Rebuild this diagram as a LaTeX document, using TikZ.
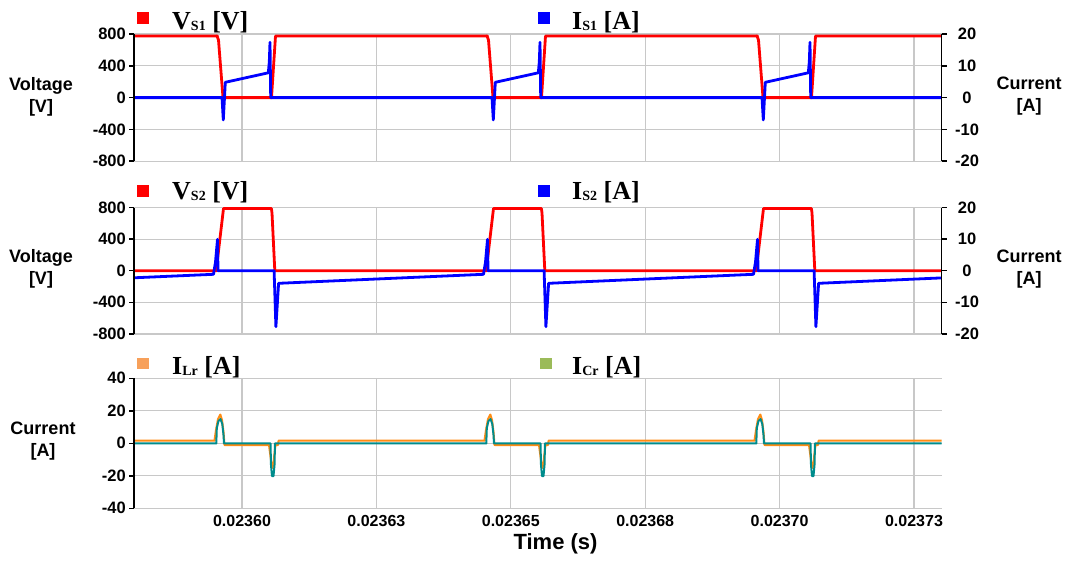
\documentclass[tikz,border=0pt]{standalone}
\usepackage{fontspec}
\setmainfont{Liberation Serif}
\setsansfont{Liberation Sans}
\definecolor{vred}{RGB}{255,0,0}
\definecolor{iblue}{RGB}{0,0,255}
\definecolor{lrorange}{RGB}{255,140,20}
\definecolor{crteal}{RGB}{0,140,140}
\definecolor{lrsq}{RGB}{247,160,90}
\definecolor{crsq}{RGB}{155,187,89}
\definecolor{gridc}{RGB}{200,200,200}
\newcommand\lsub[1]{\raisebox{-1pt}{\fontsize{14}{14}\selectfont #1}}
\tikzset{
  gridline/.style={gridc, line width=1.2pt},
  axisline/.style={black, line width=1.5pt},
  ticklab/.style={font=\sffamily\bfseries\fontsize{16.5}{16.5}\selectfont, inner sep=0pt},
  xlab/.style={font=\sffamily\bfseries\fontsize{16}{16}\selectfont, inner sep=0pt, anchor=base},
  ytitle/.style={font=\sffamily\bfseries\fontsize{18}{22}\selectfont, align=center, inner sep=0pt},
  legtext/.style={font=\rmfamily\bfseries\fontsize{26}{26}\selectfont, inner sep=0pt, anchor=base west},
  wave/.style={line width=2.8pt, line join=round, line cap=round},
  thinwave/.style={line width=2pt, line join=round, line cap=round}
}
\begin{document}
\begin{tikzpicture}[x=1pt,y=-1pt]
\useasboundingbox (0,0) rectangle (1067,562);
\fill[white] (0,0) rectangle (1067,562);

% ---------- grids ----------
\foreach \gy in {34,65.8,97.6,129.4,161.2} \draw[gridline] (134,\gy) -- (941.5,\gy);
\foreach \gy in {207.5,239.1,270.7,302.3,333.9} \draw[gridline] (134,\gy) -- (941.5,\gy);
\foreach \gy in {378.3,410.8,443.3,475.8,508.3} \draw[gridline] (134,\gy) -- (941.5,\gy);
\foreach \gx in {242,376.4,510.8,645.2,779.6,914} {
  \draw[gridline] (\gx,34) -- (\gx,161.2);
  \draw[gridline] (\gx,207.5) -- (\gx,333.9);
  \draw[gridline] (\gx,378.3) -- (\gx,508.3);
}

% ---------- panel 1 ----------
\begin{scope}
\clip (134,15) rectangle (941.5,175);
\foreach \o in {-270,0,270,540}
  \draw[wave,vred] ({217+\o},36) -- ({218.5+\o},40) -- ({223+\o},97.6) -- ({271.5+\o},97.6) -- ({275.5+\o},36) -- ({487.5+\o},36);
\foreach \o in {-270,0,270,540}
  \draw[wave,iblue] ({222+\o},97.6) -- ({223.3+\o},119.9) -- ({225.3+\o},82.3) -- ({268.3+\o},72.8) -- ({269.3+\o},62) -- ({270+\o},42.3) -- ({270.7+\o},97.6) -- ({492+\o},97.6);
\end{scope}

% ---------- panel 2 ----------
\begin{scope}
\clip (134,190) rectangle (941.5,345);
\foreach \o in {-270,0,270,540}
  \draw[wave,vred] ({216.5+\o},270.7) -- ({217.2+\o},262) -- ({223.5+\o},208.5) -- ({271.4+\o},208.5) -- ({272+\o},213) -- ({274.8+\o},270.7) -- ({486.5+\o},270.7);
\foreach \o in {-270,0,270,540}
  \draw[wave,iblue] ({218+\o},270.7) -- ({274.1+\o},270.7) -- ({275.9+\o},326.7) -- ({278.6+\o},283.3) -- ({483.5+\o},274.3) -- ({485.5+\o},262) -- ({487.5+\o},239.3) -- ({488+\o},270.7);
\end{scope}

% ---------- panel 3 ----------
\begin{scope}
\clip (134,365) rectangle (941.5,515);
\foreach \o in {-270,0,270,540}
  \draw[thinwave,lrorange] ({214.5+\o},440.5) -- ({216+\o},430) -- ({218+\o},419) -- ({220.3+\o},414.5) -- ({222+\o},420) -- ({223.5+\o},432) -- ({224.5+\o},445) -- ({269+\o},445) -- ({270.3+\o},455) -- ({272+\o},468) -- ({273.3+\o},466) -- ({274.3+\o},455) -- ({275.5+\o},445) -- ({278+\o},445) -- ({278.6+\o},440.5) -- ({484.5+\o},440.5);
\foreach \o in {-270,0,270,540}
  \draw[thinwave,crteal] ({216.3+\o},443.3) -- ({216.8+\o},428) -- ({218.5+\o},421) -- ({220.5+\o},419) -- ({222.3+\o},424) -- ({223.5+\o},435) -- ({224+\o},443.3) -- ({270.5+\o},443.3) -- ({271+\o},465) -- ({272+\o},476) -- ({273.5+\o},476) -- ({274.5+\o},465) -- ({275+\o},443.3) -- ({486.3+\o},443.3);
\end{scope}

% ---------- axes ----------
\draw[axisline] (134,34) -- (134,161.2);
\draw[axisline] (941.5,34) -- (941.5,161.2);
\draw[axisline] (134,207.5) -- (134,333.9);
\draw[axisline] (941.5,207.5) -- (941.5,333.9);
\draw[axisline] (134,378.3) -- (134,508.3);

% panel 1 ticks
\foreach \gy/\lab/\rlab [count=\i] in {34/800/20,65.8/400/10,97.6/0/0,129.4/-400/-10,161.2/-800/-20} {
  \draw[axisline] (129,\gy) -- (134,\gy);
  \draw[axisline] (941.5,\gy) -- (947,\gy);
  \node[ticklab, anchor=east] (pa\i) at (126,\gy) {\lab};
  \node[ticklab, anchor=center] (pb\i) at (967,\gy) {\rlab};
}
% panel 2 ticks
\foreach \gy/\lab/\rlab [count=\i] in {207.5/800/20,239.1/400/10,270.7/0/0,302.3/-400/-10,333.9/-800/-20} {
  \draw[axisline] (129,\gy) -- (134,\gy);
  \draw[axisline] (941.5,\gy) -- (947,\gy);
  \node[ticklab, anchor=east] (qa\i) at (126,\gy) {\lab};
  \node[ticklab, anchor=center] (qb\i) at (967,\gy) {\rlab};
}
% panel 3 ticks
\foreach \gy/\lab [count=\i] in {378.3/40,410.8/20,443.3/0,475.8/-20,508.3/-40} {
  \draw[axisline] (129,\gy) -- (134,\gy);
  \node[ticklab, anchor=east] (ra\i) at (126,\gy) {\lab};
}

% x labels
\foreach \gx/\lab [count=\i] in {242/0.02360,376.4/0.02363,510.8/0.02365,645.2/0.02368,779.6/0.02370,914/0.02373}
  \node[xlab] (xl\i) at (\gx,526.7) {\lab};
\node[font=\sffamily\bfseries\fontsize{22}{22}\selectfont, inner sep=0pt, anchor=base] (tlab) at (555.5,549) {Time (s)};

% axis titles
\node[ytitle] (yt1) at (41,97) {Voltage\\{[V]}};
\node[ytitle] (yt2) at (41,269) {Voltage\\{[V]}};
\node[ytitle] (yt3) at (43,441) {Current\\{[A]}};
\node[ytitle] (rt1) at (1029,96) {Current\\{[A]}};
\node[ytitle] (rt2) at (1029,269) {Current\\{[A]}};

% legends
\fill[vred] (137,12) rectangle (149,23.5);
\node[legtext] (lg1) at (172,29.3) {V\lsub{S1} [V]};
\fill[iblue] (538,12) rectangle (550,23.5);
\node[legtext] (lg2) at (572,29.3) {I\lsub{S1} [A]};
\fill[vred] (137,185) rectangle (149,196.5);
\node[legtext] (lg3) at (172,199.3) {V\lsub{S2} [V]};
\fill[iblue] (538,185) rectangle (550,196.5);
\node[legtext] (lg4) at (572,199.3) {I\lsub{S2} [A]};
\fill[lrsq] (137,357.5) rectangle (149,369.3);
\node[legtext] (lg5) at (172,374.3) {I\lsub{Lr} [A]};
\fill[crsq] (540,357.5) rectangle (552,369.3);
\node[legtext] (lg6) at (572,374.3) {I\lsub{Cr} [A]};
\end{tikzpicture}
\end{document}
